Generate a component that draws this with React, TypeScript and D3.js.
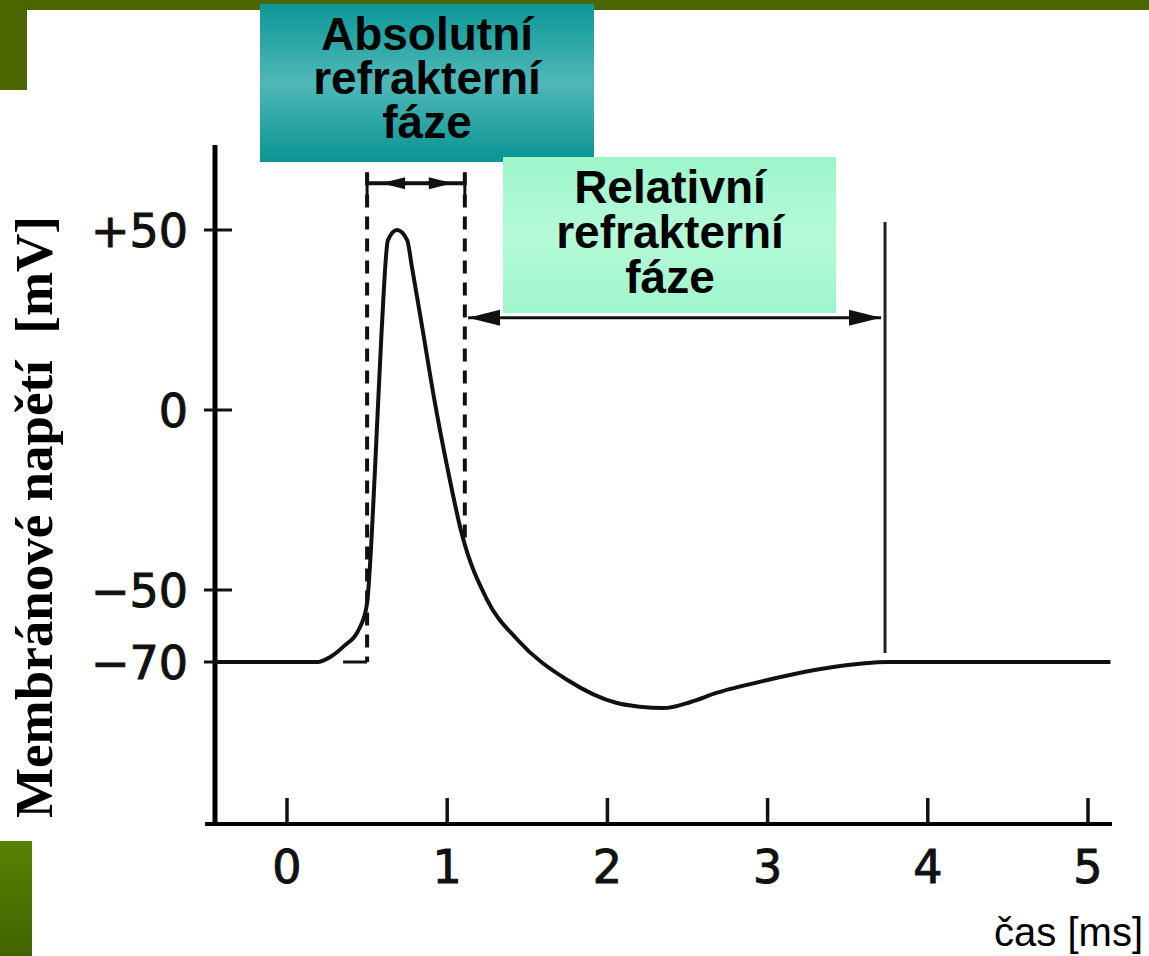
import React from "react";
import * as d3 from "d3";

// ---- data ----
const timeMs = [-0.45, 0.19, 0.27, 0.35, 0.456, 0.5, 0.52, 0.55, 0.59, 0.63, 0.687, 0.75, 0.78, 0.85, 0.92, 1.0, 1.09, 1.25, 1.44, 1.75, 2.06, 2.2, 2.35, 2.52, 2.68, 3.0, 3.41, 3.75, 5.14];
const voltageMv = [-70, -70, -68.6, -65.8, -60.3, -53.6, -41.7, -15.8, 21.4, 47.2, 50, 47.2, 39.7, 21.4, 2.8, -15.8, -34.2, -52.8, -63.9, -75, -81.4, -82.4, -82.8, -81.1, -78.6, -75, -71.4, -70, -70];
const xTicks = [0, 1, 2, 3, 4, 5];
const yTicks = [50, 0, -50, -70];
const yTickLabels = ["+50", "0", "\u221250", "\u221270"];
const absPeriod = [0.5, 1.11];
const relPeriod = [1.13, 3.733];
const absLines = ["Absolutní", "refrakterní", "fáze"];
const relLines = ["Relativní", "refrakterní", "fáze"];
const yLabel = "Membránové napětí  [mV]";
const xLabel = "čas [ms]";

const W = 1149;
const H = 956;

export default function App() {
  const x = d3.scaleLinear().domain([0, 5]).range([287, 1088]);
  const y = d3.scaleLinear().domain([-70, 50]).range([662, 230]);
  const pts: [number, number][] = timeMs.map((t, i) => [t, voltageMv[i]]);
  const line = d3
    .line<[number, number]>()
    .x((d) => x(d[0]))
    .y((d) => y(d[1]))
    .curve(d3.curveMonotoneX);

  const axisX = 215;
  const axisY = 824;
  const sans = "'Liberation Sans', Arial, sans-serif";

  // arrowhead helper: tip at (tx,ty), pointing in direction dir (+1 right, -1 left)
  const head = (tx: number, ty: number, dir: number, len: number, hw: number) =>
    `M${tx},${ty} L${tx - dir * len},${ty - hw} L${tx - dir * len},${ty + hw} Z`;

  const absY = y(63);
  const relY = y(25.6);
  const ax0 = x(absPeriod[0]);
  const ax1 = x(absPeriod[1]);
  const rx0 = x(relPeriod[0]);
  const rx1 = x(relPeriod[1]);

  return (
    <svg
      width={W}
      height={H}
      style={{ position: "absolute", left: 0, top: 0, background: "#fff" }}
    >
      <defs>
        <linearGradient id="teal" x1="0" y1="0" x2="0" y2="1">
          <stop offset="0" stopColor="#0c9797" />
          <stop offset="0.5" stopColor="#4fb8b8" />
          <stop offset="1" stopColor="#0b9494" />
        </linearGradient>
        <linearGradient id="mint" x1="0" y1="0" x2="0" y2="1">
          <stop offset="0" stopColor="#9cf6cb" />
          <stop offset="0.5" stopColor="#b6fad8" />
          <stop offset="1" stopColor="#9ff6cc" />
        </linearGradient>
        <linearGradient id="olive" x1="0" y1="0" x2="0" y2="1">
          <stop offset="0" stopColor="#568300" />
          <stop offset="1" stopColor="#436300" />
        </linearGradient>
      </defs>

      {/* frame decorations */}
      <rect x={0} y={0} width={W} height={10} fill="#4a6600" />
      <rect x={0} y={0} width={27} height={90} fill="#4b6800" />
      <rect x={0} y={841} width={32} height={H - 841} fill="url(#olive)" />

      {/* axes */}
      <line x1={axisX} y1={145} x2={axisX} y2={axisY + 2} stroke="#000" strokeWidth={5} />
      <line x1={205} y1={axisY} x2={1112} y2={axisY} stroke="#000" strokeWidth={4} />
      {yTicks.map((v, i) => (
        <g key={"yt" + v}>
          <line x1={204} x2={232} y1={y(v)} y2={y(v)} stroke="#111" strokeWidth={3} />
          <text
            x={188}
            y={y(v) + 17}
            textAnchor="end"
            fontFamily="'DejaVu Sans', sans-serif"
            fontSize={46}
            fill="#111"
            stroke="#111"
            strokeWidth={1}
          >
            {yTickLabels[i]}
          </text>
        </g>
      ))}
      {xTicks.map((t) => (
        <g key={"xt" + t}>
          <line x1={x(t)} x2={x(t)} y1={798} y2={axisY} stroke="#111" strokeWidth={3.5} />
          <text
            x={x(t)}
            y={883}
            textAnchor="middle"
            fontFamily="'DejaVu Sans', sans-serif"
            fontSize={46}
            fill="#111"
            stroke="#111"
            strokeWidth={1}
          >
            {t}
          </text>
        </g>
      ))}

      {/* absolute refractory markers */}
      <line x1={ax0} x2={ax0} y1={y(66)} y2={y(-70)} stroke="#111" strokeWidth={4} strokeDasharray="13 9" />
      <line x1={x(0.35)} x2={ax0} y1={y(-70)} y2={y(-70)} stroke="#111" strokeWidth={3} />
      <line x1={ax1} x2={ax1} y1={y(66)} y2={y(-36)} stroke="#111" strokeWidth={4} strokeDasharray="13 9" />
      <line x1={ax0} x2={ax1} y1={absY} y2={absY} stroke="#111" strokeWidth={4} />
      <line x1={ax0} x2={ax0} y1={absY - 11} y2={absY + 12} stroke="#111" strokeWidth={3} />
      <line x1={ax1} x2={ax1} y1={absY - 11} y2={absY + 12} stroke="#111" strokeWidth={3} />
      <path d={head(ax0 + 14, absY, -1, 24, 6)} fill="#111" />
      <path d={head(ax1 - 12, absY, 1, 24, 6)} fill="#111" />

      {/* relative refractory markers */}
      <line x1={rx1} x2={rx1} y1={y(52.2)} y2={y(-67.5)} stroke="#222" strokeWidth={3} />
      <line x1={rx0} x2={rx1 - 4} y1={relY} y2={relY} stroke="#111" strokeWidth={3} />
      <path d={head(rx0, relY, -1, 32, 8)} fill="#111" />
      <path d={head(rx1 - 4, relY, 1, 32, 8)} fill="#111" />

      {/* action potential */}
      <path d={line(pts) || ""} fill="none" stroke="#111" strokeWidth={4} strokeLinejoin="round" />

      {/* boxes */}
      <rect x={260} y={4} width={334} height={158} fill="url(#teal)" />
      {absLines.map((s, i) => (
        <text
          key={"a" + i}
          x={427}
          y={50 + i * 44}
          textAnchor="middle"
          fontFamily={sans}
          fontWeight="bold"
          fontSize={46}
          fill="#000"
        >
          {s}
        </text>
      ))}
      <rect x={503} y={157} width={333} height={156} fill="url(#mint)" />
      {relLines.map((s, i) => (
        <text
          key={"r" + i}
          x={670}
          y={203 + i * 45}
          textAnchor="middle"
          fontFamily={sans}
          fontWeight="bold"
          fontSize={46}
          fill="#000"
        >
          {s}
        </text>
      ))}

      {/* axis titles */}
      <text
        transform={`translate(52,517) rotate(-90)`}
        textAnchor="middle"
        fontFamily="'Liberation Serif', 'Times New Roman', serif"
        fontWeight="bold"
        fontSize={53}
        fill="#000"
        style={{ whiteSpace: "pre" }}
      >
        {yLabel}
      </text>
      <text x={1143} y={946} textAnchor="end" fontFamily={sans} fontSize={40} fill="#000">
        {xLabel}
      </text>
    </svg>
  );
}
